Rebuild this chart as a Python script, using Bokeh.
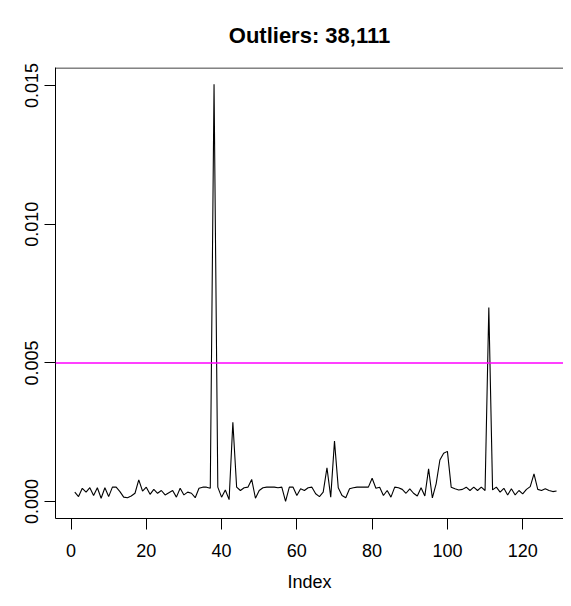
from bokeh.plotting import figure
from bokeh.models import Span, LinearAxis, FixedTicker, Range1d
from bokeh.embed import file_html
from bokeh.resources import INLINE

index = list(range(1, 130))
values = [
    0.00034, 0.00018, 0.00048, 0.00034, 0.00050, 0.00022, 0.00050, 0.00012, 0.00050, 0.00018,
    0.00052, 0.00052, 0.00036, 0.00016, 0.00014, 0.00020, 0.00030, 0.00078, 0.00038, 0.00052,
    0.00026, 0.00044, 0.00030, 0.00040, 0.00024, 0.00032, 0.00040, 0.00016, 0.00048, 0.00024,
    0.00034, 0.00030, 0.00014, 0.00048, 0.00052, 0.00052, 0.00048, 0.01505, 0.00052, 0.00016,
    0.00042, 0.00007, 0.00286, 0.00052, 0.00040, 0.00050, 0.00052, 0.00080, 0.00012, 0.00040,
    0.00050, 0.00052, 0.00052, 0.00052, 0.00050, 0.00052, 0.00001, 0.00052, 0.00052, 0.00022,
    0.00046, 0.00040, 0.00050, 0.00052, 0.00028, 0.00018, 0.00034, 0.00122, 0.00016, 0.00218,
    0.00050, 0.00022, 0.00014, 0.00046, 0.00050, 0.00052, 0.00052, 0.00052, 0.00052, 0.00084,
    0.00048, 0.00052, 0.00022, 0.00040, 0.00016, 0.00052, 0.00050, 0.00044, 0.00030, 0.00046,
    0.00030, 0.00020, 0.00050, 0.00020, 0.00118, 0.00013, 0.00064, 0.00150, 0.00174, 0.00181,
    0.00052, 0.00046, 0.00042, 0.00044, 0.00052, 0.00040, 0.00052, 0.00040, 0.00052, 0.00040,
    0.00700, 0.00042, 0.00052, 0.00034, 0.00048, 0.00024, 0.00046, 0.00024, 0.00040, 0.00028,
    0.00044, 0.00054, 0.00100, 0.00044, 0.00040, 0.00046, 0.00040, 0.00036, 0.00038,
]
threshold = 0.005
title_text = "Outliers: 38,111"
x_label = "Index"
x_ticks = [0, 20, 40, 60, 80, 100, 120]
y_ticks = [0.000, 0.005, 0.010, 0.015]
y_tick_labels = {0.0: "0.000", 0.005: "0.005", 0.01: "0.010", 0.015: "0.015"}

FONT = "Liberation Sans"
X0, X1 = -4.12, 130.84
Y0, Y1 = -0.00061, 0.01565

p = figure(width=563, height=598, output_backend="svg", toolbar_location=None,
           x_range=Range1d(X0, X1), y_range=Range1d(Y0, Y1),
           min_border_left=55, min_border_right=0, min_border_top=67, min_border_bottom=80,
           x_axis_location=None, y_axis_location=None)
p.outline_line_color = None
p.grid.visible = False
p.background_fill_color = "white"
p.border_fill_color = "white"

p.title.text = title_text
p.title.text_font = FONT
p.title.text_font_size = "22px"
p.title.text_font_style = "bold"
p.title.text_color = "black"
p.title.align = "center"
p.title.standoff = 39
p.title.offset = 4

xaxis = LinearAxis(ticker=FixedTicker(ticks=x_ticks), axis_label=x_label)
yaxis = LinearAxis(ticker=FixedTicker(ticks=y_ticks))
yaxis.major_label_overrides = y_tick_labels
yaxis.major_label_orientation = "vertical"
for ax in (xaxis, yaxis):
    ax.axis_line_color = "black"
    ax.major_tick_line_color = "black"
    ax.major_tick_out = 11
    ax.major_tick_in = 0
    ax.minor_tick_line_color = None
    ax.major_label_text_font = FONT
    ax.major_label_text_font_size = "18px"
    ax.major_label_text_color = "black"
    ax.axis_label_text_font = FONT
    ax.axis_label_text_font_size = "18px"
    ax.axis_label_text_font_style = "normal"
    ax.axis_label_text_color = "black"
xaxis.major_label_standoff = 14
xaxis.axis_label_standoff = 12
yaxis.major_label_standoff = 6
p.add_layout(xaxis, "below")
p.add_layout(yaxis, "left")

# top border of the box (half a pixel inside the frame so it renders crisp)
p.add_layout(Span(location=Y1 - 0.000018, dimension="width", line_color="black", line_width=1))

p.line(index, values, line_color="black", line_width=1.1)
p.add_layout(Span(location=threshold, dimension="width", line_color="#FF00FF", line_width=1.5))

open("out.html", "w").write(file_html(p, INLINE))
